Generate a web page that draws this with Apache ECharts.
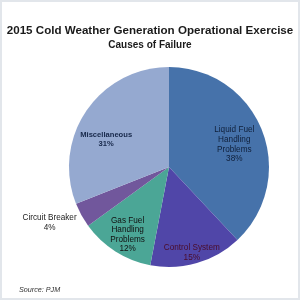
<!DOCTYPE html>
<html><head><meta charset="utf-8">
<script src="https://cdn.jsdelivr.net/npm/echarts@6/dist/echarts.min.js"></script>
<style>
html,body{margin:0;padding:0;background:#fff;}
#c{position:absolute;left:0;top:0;width:300px;height:300px;}
#f{position:absolute;left:0;top:0;width:300px;height:300px;box-sizing:border-box;border:2px solid #e2e6eb;pointer-events:none;}
</style></head>
<body>
<div id="c"></div><div id="f"></div>
<script>
const categories = ['Liquid Fuel\nHandling\nProblems', 'Control System', 'Gas Fuel\nHandling\nProblems', 'Circuit Breaker', 'Miscellaneous'];
const values = [38, 15, 12, 4, 31];
const colors = ['#4672aa', '#5046a8', '#4ba696', '#71579c', '#95a9d0'];
const labelColors = ['#0f1f3a', '#4a0c2a', '#111111', '#222222', '#17284a'];
const labelShift = [[16, -3], [8, 35], [-13, 23], [-73, 30], [-19, 2]];

const chart = echarts.init(document.getElementById('c'), null, {renderer: 'canvas'});
chart.setOption({
  backgroundColor: '#ffffff',
  animation: false,
  title: [{
    text: '2015 Cold Weather Generation Operational Exercise',
    left: 'center', top: 20,
    textStyle: {fontFamily: 'Liberation Sans, Arial', fontWeight: 'bold', fontSize: 11.6, color: '#1a1a1a'}
  }, {
    text: 'Causes of Failure',
    left: 'center', top: 35,
    textStyle: {fontFamily: 'Liberation Sans, Arial', fontWeight: 'bold', fontSize: 10, color: '#1a1a1a'}
  }, {
    text: 'Source: PJM',
    left: 14, top: 281,
    textStyle: {fontFamily: 'Liberation Sans, Arial', fontStyle: 'italic', fontWeight: 'normal', fontSize: 7.2, color: '#333333'}
  }],
  series: [{
    type: 'pie',
    center: [169, 167],
    radius: [0, 100],
    startAngle: 90,
    clockwise: true,
    avoidLabelOverlap: false,
    itemStyle: {borderWidth: 0},
    label: {
      position: 'inside',
      fontFamily: 'Liberation Sans, Arial',
      fontSize: 8.2,
      lineHeight: 9.6,
      align: 'center',
      formatter: p => p.name + '\n' + p.value + '%'
    },
    labelLine: {show: false},
    labelLayout: p => ({dx: labelShift[p.dataIndex][0], dy: labelShift[p.dataIndex][1]}),
    emphasis: {disabled: true},
    data: categories.map((n, i) => ({
      name: n, value: values[i],
      itemStyle: {color: colors[i]},
      label: {color: labelColors[i], fontWeight: i === 4 ? 'bold' : 'normal', fontSize: i === 4 ? 7.6 : 8.2}
    }))
  }]
});
</script>
</body></html>
